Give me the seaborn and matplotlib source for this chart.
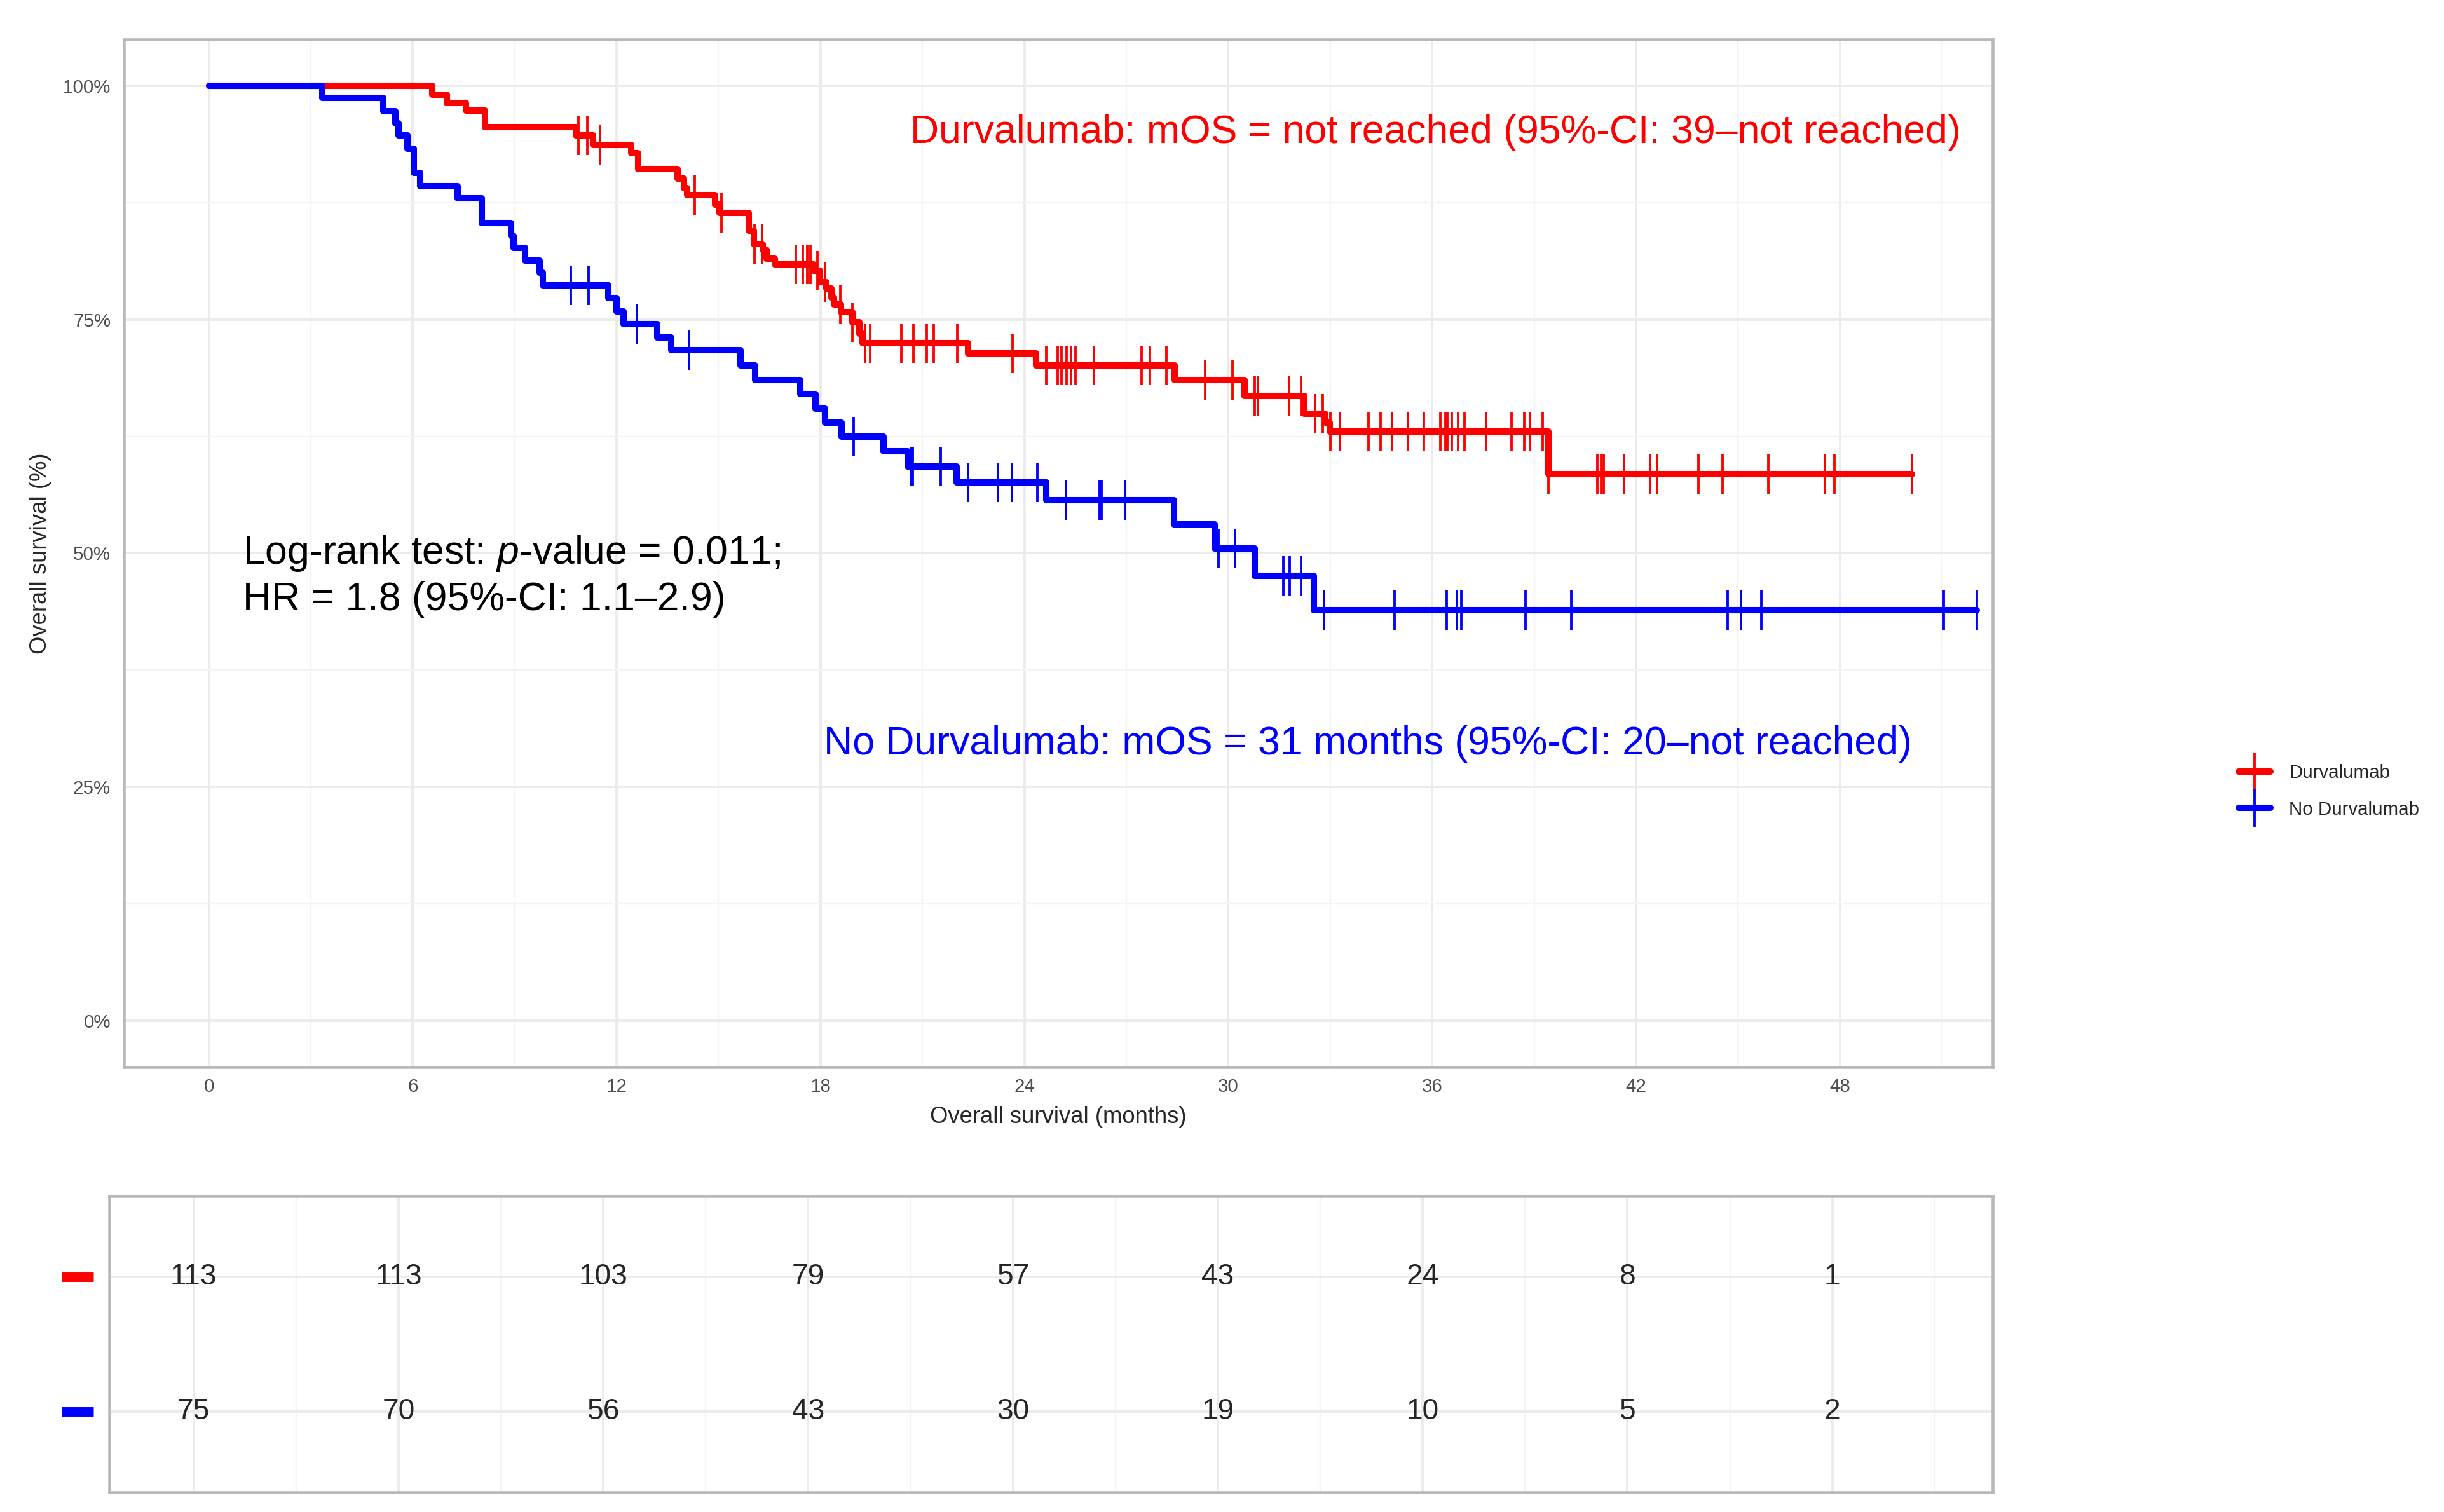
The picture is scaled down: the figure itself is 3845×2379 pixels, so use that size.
import numpy as np
import pandas as pd
import seaborn as sns
import matplotlib.pyplot as plt
import matplotlib.ticker as tkr
from matplotlib.lines import Line2D

# Kaplan-Meier steps (months, survival %)
durva_time = [0, 6.57, 7.0, 7.56, 8.13, 10.8, 11.3, 12.43, 12.63, 13.8, 13.98, 14.07,
              14.9, 15.03, 15.89, 16.04, 16.3, 16.42, 16.65, 17.8, 17.99, 18.18, 18.32,
              18.4, 18.61, 18.94, 19.14, 19.23, 22.34, 24.34, 28.43, 30.48, 32.24,
              32.85, 32.99, 39.42]
durva_surv = [100, 99.1, 98.2, 97.4, 95.6, 94.7, 93.7, 92.8, 91.1, 90.1, 89.1, 88.3,
              87.3, 86.4, 84.5, 83.1, 82.5, 81.5, 80.9, 80.2, 79.0, 78.3, 77.4,
              76.6, 75.8, 74.7, 73.5, 72.5, 71.4, 70.1, 68.5, 66.8, 64.95,
              64.0, 63.0, 58.5]
durva_end = 50.12
durva_cens = [10.87, 11.14, 11.51, 14.3, 15.09, 16.05, 16.28, 17.28, 17.47, 17.61,
              17.71, 17.9, 18.14, 18.58, 18.94, 19.32, 19.47, 20.37, 20.74, 21.12,
              21.33, 22.03, 23.65, 24.65, 24.98, 25.1, 25.25, 25.38, 25.5, 26.05,
              27.45, 27.69, 28.18, 29.32, 30.12, 30.78, 30.88, 31.78, 32.15, 32.56,
              32.78, 33.01, 33.28, 34.12, 34.48, 34.81, 35.29, 35.75, 36.24, 36.39,
              36.45, 36.58, 36.77, 36.96, 37.58, 38.34, 38.71, 38.87, 39.25, 39.42,
              40.87, 40.98, 41.05, 41.64, 42.41, 42.62, 43.83, 44.55, 45.9, 47.55,
              47.83, 50.12]

nodurva_time = [0, 3.33, 5.13, 5.49, 5.58, 5.84, 6.03, 6.22, 7.32, 8.04, 8.9, 8.96,
                9.3, 9.73, 9.82, 11.76, 12.0, 12.2, 13.2, 13.6, 15.65, 16.08, 17.4,
                17.85, 18.14, 18.62, 19.85, 20.57, 22.0, 24.65, 28.4, 29.6, 30.77, 32.52]
nodurva_surv = [100, 98.7, 97.3, 96.0, 94.7, 93.3, 90.7, 89.3, 88.0, 85.3, 84.0, 82.7,
                81.3, 80.0, 78.7, 77.3, 75.9, 74.5, 73.1, 71.7, 70.1, 68.5, 67.05,
                65.5, 64.0, 62.45, 60.9, 59.3, 57.6, 55.65, 53.1, 50.5, 47.6, 43.9]
nodurva_end = 52.03
nodurva_cens = [10.65, 11.18, 12.6, 14.13, 18.97, 20.65, 20.72, 21.54, 22.35, 23.22,
                23.64, 24.39, 25.23, 26.22, 26.27, 26.97, 29.72, 30.2, 31.62, 31.8,
                32.15, 32.82, 34.89, 36.43, 36.72, 36.86, 38.75, 40.1, 44.69, 45.09,
                45.69, 51.05, 52.03]

groups = ['Durvalumab', 'No Durvalumab']
palette = {'Durvalumab': '#FF0000', 'No Durvalumab': '#0000FF'}

risk_times = [0, 6, 12, 18, 24, 30, 36, 42, 48]
risk_durva = [113, 113, 103, 79, 57, 43, 24, 8, 1]
risk_nodurva = [75, 70, 56, 43, 30, 19, 10, 5, 2]

sns.set_style('white')
plt.rcParams['font.family'] = ['Liberation Sans', 'DejaVu Sans']
plt.rcParams['mathtext.fontset'] = 'custom'
plt.rcParams['mathtext.it'] = 'Liberation Sans:italic'
plt.rcParams['mathtext.rm'] = 'Liberation Sans'

curves = {
    'Durvalumab': (durva_time, durva_surv, durva_end, durva_cens),
    'No Durvalumab': (nodurva_time, nodurva_surv, nodurva_end, nodurva_cens),
}
rows = []
for g in groups:
    t, s, end, _ = curves[g]
    for ti, si in zip(t + [end], s + [s[-1]]):
        rows.append({'time': ti, 'surv': si, 'group': g})
df = pd.DataFrame(rows)

fig = plt.figure(figsize=(15.38, 9.516), dpi=250)
ax = fig.add_axes([0.0507, 0.2942, 0.7647, 0.6798])
axt = fig.add_axes([0.0447, 0.0132, 0.7707, 0.1958])

grid_major = '#EBEBEB'
grid_minor = '#F4F4F4'
border = '#B8B8B8'

ax.set_axisbelow(True)
sns.lineplot(data=df, x='time', y='surv', hue='group', hue_order=groups,
             palette=palette, drawstyle='steps-post', estimator=None, sort=False,
             linewidth=2.9, legend=False, ax=ax)

for g in groups:
    t, s, end, cens = curves[g]
    idx = np.searchsorted(t, cens, side='right') - 1
    ax.plot(cens, np.array(s)[idx], linestyle='none', marker='|', markersize=18,
            markeredgewidth=1.1, color=palette[g])

ax.set_xlim(-2.5, 52.5)
ax.set_ylim(-5, 105)
ax.set_xticks(risk_times)
ax.set_xticks([3, 9, 15, 21, 27, 33, 39, 45, 51], minor=True)
ax.set_yticks([0, 25, 50, 75, 100])
ax.set_yticks([12.5, 37.5, 62.5, 87.5], minor=True)
ax.yaxis.set_major_formatter(tkr.PercentFormatter(decimals=0))
ax.grid(which='major', color=grid_major, linewidth=1.1)
ax.grid(which='minor', color=grid_minor, linewidth=0.7)
ax.tick_params(which='major', length=4, width=0.9, color='#555555',
               labelsize=8.5, labelcolor='#4D4D4D', pad=2)
ax.tick_params(axis='x', which='major', pad=1)
ax.tick_params(which='minor', length=0)
for sp in ax.spines.values():
    sp.set_color(border)
    sp.set_linewidth(1.3)
ax.set_xlabel('Overall survival (months)', fontsize=10.5, labelpad=4.5)
ax.set_ylabel('Overall survival (%)', fontsize=10.5, labelpad=5)

ax.text(36.1, 95.0, 'Durvalumab: mOS = not reached (95%-CI: 39\u2013not reached)',
        color='#FF0000', fontsize=18, ha='center', va='center')
ax.text(34.1, 29.6, 'No Durvalumab: mOS = 31 months (95%-CI: 20\u2013not reached)',
        color='#0000FF', fontsize=18, ha='center', va='center')
ax.text(1.0, 47.6, 'Log-rank test: $p$-value = 0.011;\nHR = 1.8 (95%-CI: 1.1\u20132.9)',
        color='black', fontsize=18, ha='left', va='center', linespacing=1.25)

handles = [Line2D([], [], color=palette[g], linewidth=2.9, marker='|',
                  markersize=17, markeredgewidth=1.1) for g in groups]
fig.legend(handles, groups, loc='center left', bbox_to_anchor=(0.909, 0.4767),
           frameon=False, fontsize=8.5, handlelength=1.7, handletextpad=1.0,
           labelspacing=1.0)

# number at risk table
axt.set_xlim(-2.47, 52.7)
axt.set_ylim(0.4, 2.6)
axt.set_xticks(risk_times)
axt.set_xticks([3, 9, 15, 21, 27, 33, 39, 45, 51], minor=True)
axt.set_yticks([1, 2])
axt.grid(which='major', color=grid_major, linewidth=1.1)
axt.grid(which='minor', axis='x', color=grid_minor, linewidth=0.7)
axt.tick_params(which='both', length=0, labelbottom=False, labelleft=False)
for sp in axt.spines.values():
    sp.set_color(border)
    sp.set_linewidth(1.3)
for counts, yrow in [(risk_durva, 2), (risk_nodurva, 1)]:
    for tt, n in zip(risk_times, counts):
        axt.text(tt, yrow, str(n), ha='center', va='center', fontsize=13.3)
for g, yrow in [('Durvalumab', 2), ('No Durvalumab', 1)]:
    axt.plot([-0.0251, -0.0085], [yrow, yrow], color=palette[g], linewidth=4.3,
             solid_capstyle='butt', transform=axt.get_yaxis_transform(), clip_on=False)

fig.savefig('out.png', dpi=250)
